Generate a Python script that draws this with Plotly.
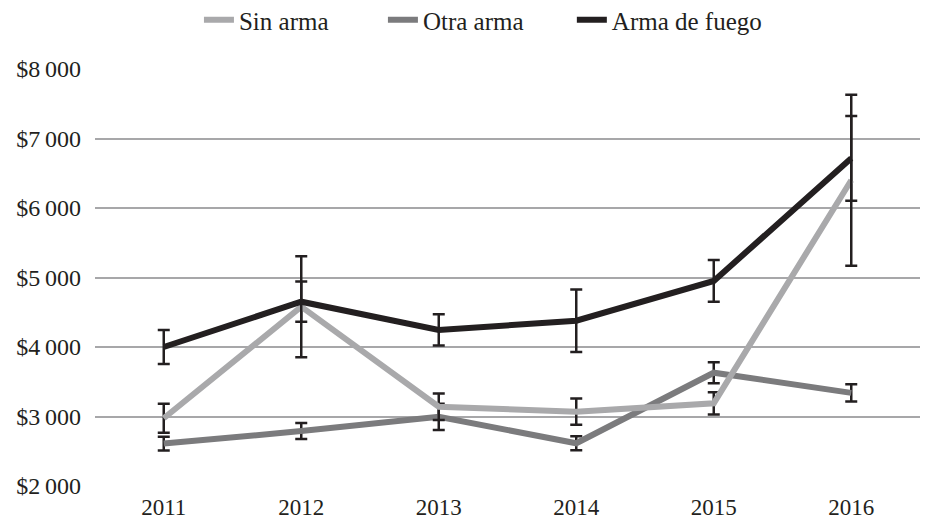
import plotly.graph_objects as go

years = ["2011", "2012", "2013", "2014", "2015", "2016"]
sin_arma = [2975, 4580, 3140, 3070, 3190, 6400]
sin_arma_err = [210, 727, 190, 190, 160, 1230]
otra_arma = [2610, 2790, 2995, 2615, 3630, 3340]
otra_arma_err = [100, 115, 190, 100, 150, 125]
arma_fuego = [4000, 4652, 4245, 4378, 4950, 6715]
arma_fuego_err = [245, 290, 225, 450, 300, 610]

tick_vals = [2000, 3000, 4000, 5000, 6000, 7000, 8000]
tick_text = ["$2\u2009000", "$3\u2009000", "$4\u2009000", "$5\u2009000", "$6\u2009000", "$7\u2009000", "$8\u2009000"]

series = [
    ("Sin arma", sin_arma, sin_arma_err, "#a9a9ab", "legend"),
    ("Otra arma", otra_arma, otra_arma_err, "#7b7b7d", "legend2"),
    ("Arma de fuego", arma_fuego, arma_fuego_err, "#231f20", "legend3"),
]

fig = go.Figure()
for name, vals, errs, color, leg in [series[1], series[0], series[2]]:
    fig.add_trace(go.Scatter(
        x=years, y=vals, name=name, mode="lines",
        line=dict(color=color, width=6),
        legend=leg,
        error_y=dict(type="data", array=errs, visible=True,
                     color="#231f20", thickness=2.5, width=6),
    ))

font = "Liberation Serif"
legend_font = dict(family=font, size=25, color="#231f20")
def leg(x):
    return dict(orientation="h", x=x, xanchor="left", y=1.1175, yanchor="middle",
                font=legend_font, bgcolor="rgba(0,0,0,0)")

fig.update_layout(
    width=943, height=528,
    margin=dict(l=95, r=23, t=69, b=42, autoexpand=False),
    paper_bgcolor="white", plot_bgcolor="white",
    font=dict(family=font, size=24, color="#231f20"),
    showlegend=True,
    legend=leg(0.126),
    legend2=leg(0.349),
    legend3=leg(0.578),
    xaxis=dict(type="category", range=[-0.5, 5.5], showgrid=False, zeroline=False,
               showline=False, ticks="", tickfont=dict(size=23), ticklabelstandoff=5),
    yaxis=dict(range=[2000, 8000], tickvals=tick_vals, ticktext=tick_text,
               showgrid=True, gridcolor="#a7a7a9", gridwidth=2, zeroline=False,
               showline=False, ticks="", tickfont=dict(size=24), ticklabelstandoff=13),
)

fig.write_html("out.html", config={"displayModeBar": False},
               post_script="document.body.style.margin='0';document.body.style.padding='0';")
